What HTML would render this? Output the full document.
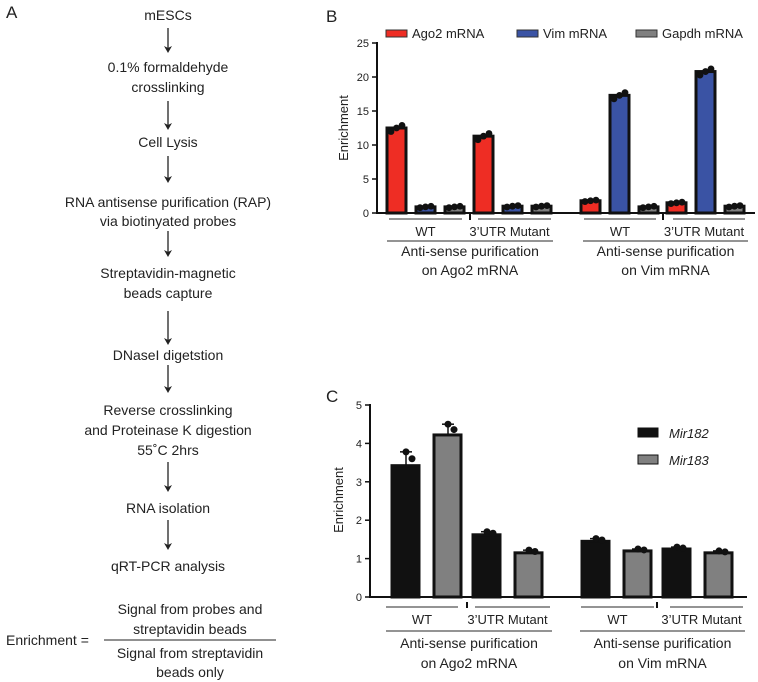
<!DOCTYPE html>
<html><head><meta charset="utf-8"><style>
body{margin:0;background:#fff;}
svg{display:block;font-family:"Liberation Sans","DejaVu Sans",sans-serif;}
</style></head><body>
<svg id="fig" width="758" height="682" viewBox="0 0 758 682">
<g id="flow" font-size="14" fill="#222" text-anchor="middle">
<text x="6" y="18" font-size="17" text-anchor="start">A</text>
</g>
<g id="chartB"></g>
<g id="chartC"></g>
</svg>
<script>
const NS="http://www.w3.org/2000/svg";
function mk(p,tag,attrs,txt){const e=document.createElementNS(NS,tag);for(const k in attrs)e.setAttribute(k,attrs[k]);if(txt!==undefined)e.textContent=txt;p.appendChild(e);return e;}

// Flowchart
const flowLines=[["mESCs",20],["0.1% formaldehyde",72],["crosslinking",92],["Cell Lysis",147],["RNA antisense purification (RAP)",207],["via biotinyated probes",226],["Streptavidin-magnetic",278],["beads capture",298],["DNaseI digetstion",360],["Reverse crosslinking",415],["and Proteinase K digestion",435],["55˚C 2hrs",455],["RNA isolation",513],["qRT-PCR analysis",571]];
const flowArrows=[[28,53],[101,130],[156,183],[231,257],[311,345],[365,393],[462,492],[520,550]];
const flow=document.getElementById('flow');
flowLines.forEach(l=>{const t=mk(flow,'text',{x:168,y:l[1]},l[0]);

});
flowArrows.forEach(a=>{const g=mk(flow,'g',{});


mk(g,'line',{x1:168,x2:168,y1:a[0],y2:a[1]-3,stroke:'#222','stroke-width':1.3});
mk(g,'path',{d:`M164,${a[1]-7} L168,${a[1]} L172,${a[1]-7} L168,${a[1]-5} Z`,fill:'#222'});});
[["Signal from probes and",614],["streptavidin beads",634],["Signal from streptavidin",658],["beads only",677]].forEach(l=>{const t=mk(flow,'text',{x:190,y:l[1]},l[0]);

});
const eq=mk(flow,'text',{x:6,y:645,'text-anchor':'start'},"Enrichment =");


const fl=mk(flow,'line',{x1:104,x2:276,y1:640,y2:640,stroke:'#222','stroke-width':1});



// Chart B data
const bCategories=["Ago2 WT","Ago2 3'UTR Mutant","Vim WT","Vim 3'UTR Mutant"];
const bSeriesNames=["Ago2 mRNA","Vim mRNA","Gapdh mRNA"];
const bAgo2=[12.5,11.3,1.8,1.5];
const bVim=[0.9,1.0,17.3,20.8];
const bGapdh=[0.9,1.0,0.9,1.0];
const bTicks=[0,5,10,15,20,25];
const bColors=["#ee2d24","#3a53a4","#808080"];

const B=document.getElementById('chartB');
mk(B,'text',{x:326,y:22,'font-size':17,fill:'#222'},'B');
const byS=v=>213-v*6.8;
const bGroupX=[387,474,581,667];
mk(B,'line',{x1:377,x2:377,y1:42,y2:214,stroke:'#111','stroke-width':2});
mk(B,'line',{x1:376,x2:755,y1:213,y2:213,stroke:'#111','stroke-width':2});
bTicks.forEach(t=>{mk(B,'line',{x1:372,x2:377,y1:byS(t),y2:byS(t),stroke:'#111','stroke-width':1.5});
const tl=mk(B,'text',{x:369,y:byS(t)+4,'text-anchor':'end','font-size':11,fill:'#222'},t);

});
const byt=mk(B,'text',{x:0,y:0,transform:'translate(348,128) rotate(-90)','text-anchor':'middle','font-size':13,fill:'#222'},'Enrichment');


[bAgo2,bVim,bGapdh].forEach((ser,si)=>{ser.forEach((v,gi)=>{
const x=bGroupX[gi]+si*29;
const r=mk(B,'rect',{x:x,y:byS(v),width:19,height:213-byS(v),fill:bColors[si],stroke:'#111','stroke-width':3});


[-0.4,0,0.3].forEach((d,k)=>{mk(B,'circle',{cx:x+4+k*5.5,cy:byS(v+d*(v>5?1.3:0.3)),r:3.4,fill:'#111'});});
});});
bSeriesNames.forEach((n,i)=>{const lx=[386,517,636][i];
const g=mk(B,'g',{});


mk(g,'rect',{x:lx,y:30,width:21,height:7,fill:bColors[i],stroke:'#333','stroke-width':1});
mk(g,'text',{x:lx+26,y:38,'font-size':13,fill:'#222'},n);});
function groupLabels(P,lineY,textY,longY,t1,t2,segs,longs,breaks){
segs.forEach(s=>{mk(P,'line',{x1:s[0],x2:s[1],y1:lineY,y2:lineY,stroke:'#555','stroke-width':1.2});
const t=mk(P,'text',{x:(s[0]+s[1])/2+s[2],y:textY,'text-anchor':'middle','font-size':13,fill:'#222'},s[3]);

});
longs.forEach(s=>{mk(P,'line',{x1:s[0],x2:s[1],y1:longY,y2:longY,stroke:'#555','stroke-width':1.2});
const a=mk(P,'text',{x:(s[0]+s[1])/2,y:t1,'text-anchor':'middle','font-size':14,fill:'#222'},'Anti-sense purification');


const b=mk(P,'text',{x:(s[0]+s[1])/2,y:t2,'text-anchor':'middle','font-size':14,fill:'#222'},s[2]);

});
breaks.forEach(bx=>mk(P,'line',{x1:bx,x2:bx,y1:lineY-5,y2:lineY+1,stroke:'#111','stroke-width':2}));
}
groupLabels(B,219,236,241,256,275,[[389,462,0,'WT'],[478,551,-5,'3’UTR Mutant'],[584,656,0,'WT'],[673,745,-5,'3’UTR Mutant']],[[387,553,'on Ago2 mRNA'],[583,748,'on Vim mRNA']],[470,663]);

// Chart C data
const cCategories=["Ago2 WT","Ago2 3'UTR Mutant","Vim WT","Vim 3'UTR Mutant"];
const cMir182=[3.42,1.62,1.45,1.25];
const cMir183=[4.22,1.15,1.2,1.15];
const cErr182=[3.78,1.7,1.52,1.3];
const cErr183=[4.5,1.22,1.25,1.2];
const cTicks=[0,1,2,3,4,5];
const C=document.getElementById('chartC');
mk(C,'text',{x:326,y:402,'font-size':17,fill:'#222'},'C');
const cyS=v=>597-v*38.4;
const cGroupX=[392,473,582,663];
mk(C,'line',{x1:370,x2:370,y1:404,y2:598,stroke:'#111','stroke-width':2});
mk(C,'line',{x1:369,x2:747,y1:597,y2:597,stroke:'#111','stroke-width':2});
cTicks.forEach(t=>{mk(C,'line',{x1:365,x2:370,y1:cyS(t),y2:cyS(t),stroke:'#111','stroke-width':1.5});
const tl=mk(C,'text',{x:362,y:cyS(t)+4,'text-anchor':'end','font-size':11,fill:'#222'},t);

});
const cyt=mk(C,'text',{x:0,y:0,transform:'translate(343,500) rotate(-90)','text-anchor':'middle','font-size':13,fill:'#222'},'Enrichment');


[[cMir182,cErr182,'#111','mir182'],[cMir183,cErr183,'#808080','mir183']].forEach((s,si)=>{s[0].forEach((v,gi)=>{
const x=cGroupX[gi]+si*42;
mk(C,'line',{x1:x+14,x2:x+14,y1:cyS(s[1][gi]),y2:cyS(v),stroke:'#111','stroke-width':1.5});
mk(C,'line',{x1:x+8,x2:x+20,y1:cyS(s[1][gi]),y2:cyS(s[1][gi]),stroke:'#111','stroke-width':1.5});
const r=mk(C,'rect',{x:x,y:cyS(v),width:27,height:597-cyS(v),fill:s[2],stroke:'#111','stroke-width':3});


mk(C,'circle',{cx:x+14,cy:cyS(s[1][gi]),r:3.5,fill:'#111'});
mk(C,'circle',{cx:x+20,cy:cyS((v+s[1][gi])/2),r:3.5,fill:'#111'});
});});
[['Mir182','#111',433],['Mir183','#808080',460]].forEach(l=>{const g=mk(C,'g',{});


mk(g,'rect',{x:638,y:l[2]-5,width:20,height:9,fill:l[1],stroke:'#111','stroke-width':1});
mk(g,'text',{x:669,y:l[2]+5,'font-size':13,'font-style':'italic',fill:'#222'},l[0]);});
groupLabels(C,607,624,631,648,668,[[386,458,0,'WT'],[475,550,-5,'3’UTR Mutant'],[581,654,0,'WT'],[670,743,-5,'3’UTR Mutant']],[[386,552,'on Ago2 mRNA'],[580,745,'on Vim mRNA']],[467,657]);
</script>
</body></html>
